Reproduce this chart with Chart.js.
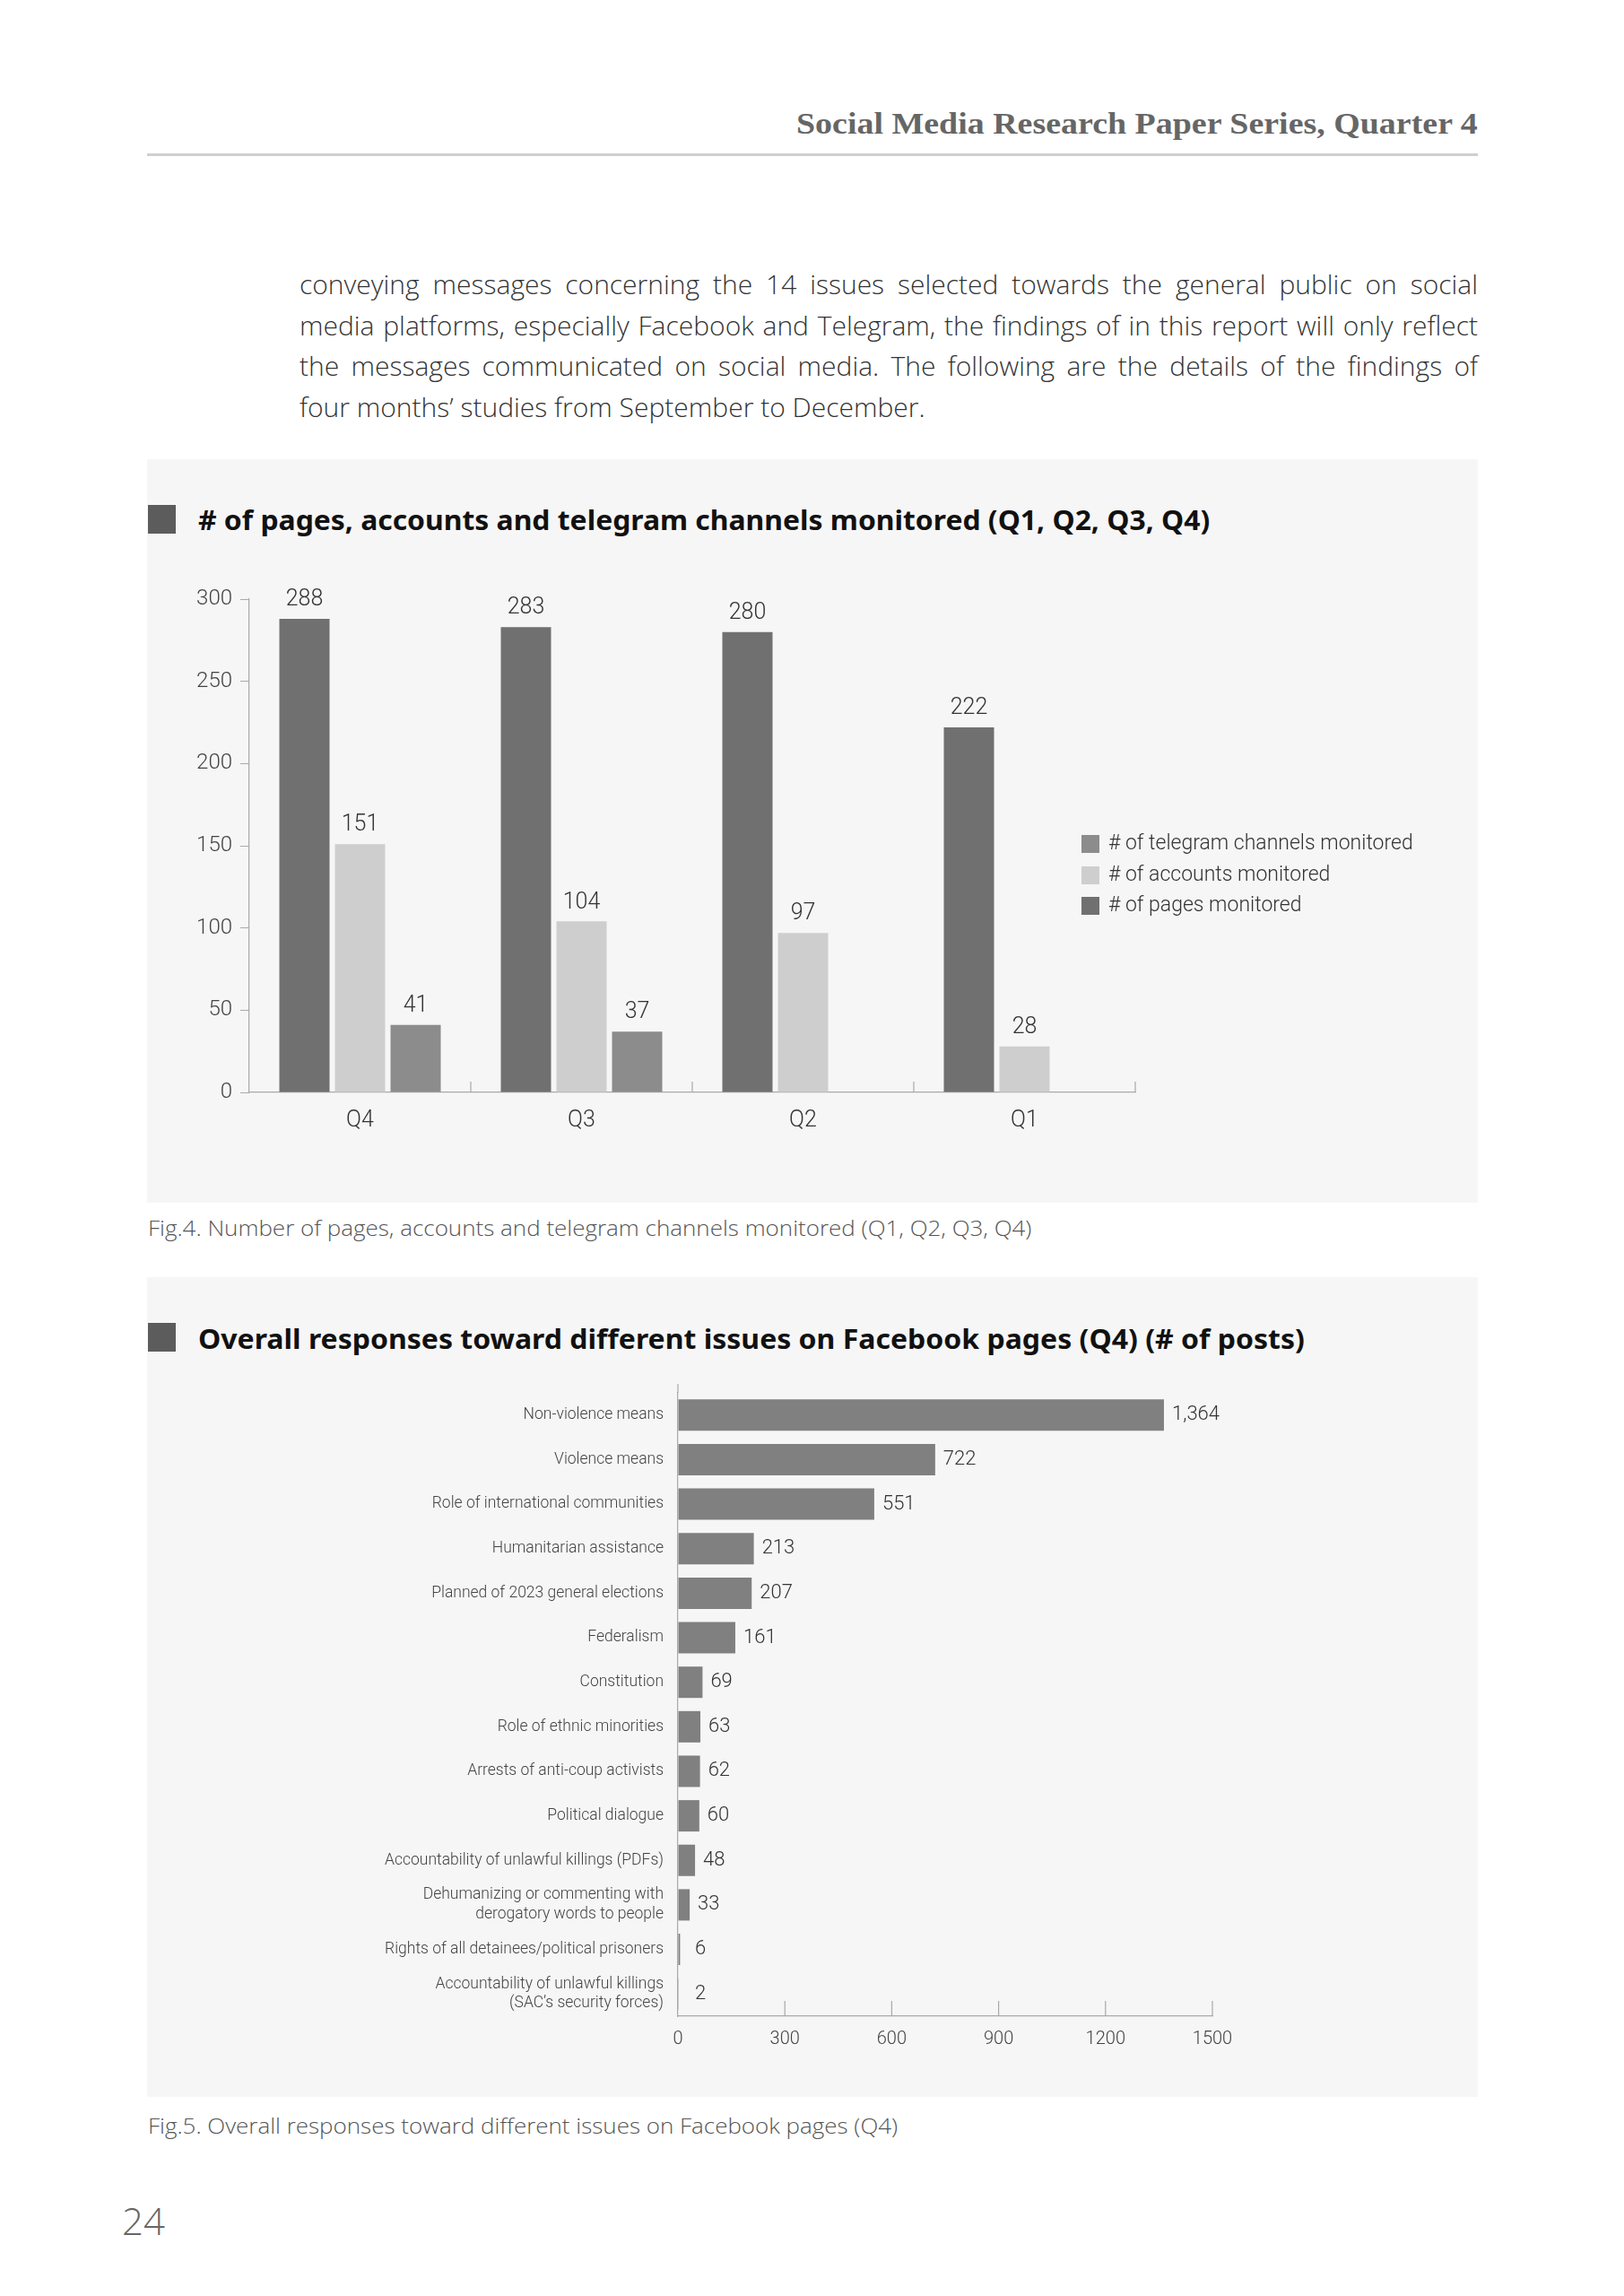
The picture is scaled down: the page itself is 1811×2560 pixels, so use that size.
<!DOCTYPE html>
<html>
<head>
<meta charset="utf-8">
<script src="https://cdn.jsdelivr.net/npm/chart.js@4.4.1/dist/chart.umd.min.js"></script>
<style>
    html, body { margin: 0; padding: 0; background: #fff; }
    body { width: 1811px; height: 2560px; position: relative; overflow: hidden; font-family: "Open Sans", sans-serif; }
    .abs { position: absolute; white-space: nowrap; line-height: 1; }
    .header { left: 888px; top: 122px; font-family: "Liberation Serif", serif; font-weight: bold; font-size: 33px; color: #666; }
    .rule { position: absolute; left: 164px; top: 171px; width: 1484px; height: 3px; background: #cfcfcf; }
    .para { position: absolute; left: 334px; top: 294px; width: 1314px; font-size: 30px; line-height: 45.7px; font-weight: 300; color: #333; }
    .para div { white-space: nowrap; text-align: justify; text-align-last: justify; }
    .para div.last { text-align: left; text-align-last: left; }
    .panel { position: absolute; left: 164px; width: 1484px; background: #f6f6f6; }
    .marker { position: absolute; left: 165px; width: 31px; height: 32px; background: #5c5c5c; }
    .title { left: 221px; font-family: "Noto Sans", sans-serif; font-weight: bold; font-size: 30px; color: #111; }
    .caption { left: 165px; font-size: 24px; font-weight: 300; color: #555; }
    .legend-row { position: absolute; left: 1206px; height: 20px; font-family: Roboto, sans-serif; font-weight: 300; font-size: 23px; color: #333; white-space: nowrap; }
    .legend-row span.box { position: absolute; left: 0; top: 0; width: 20px; height: 20px; }
    .legend-row span.txt { position: absolute; left: 30px; top: -3px; line-height: 1; }
    .pageno { left: 136px; top: 2455px; font-size: 42px; font-weight: 300; color: #666; }
</style>
</head>
<body>
<div class="abs header" id="header">Social Media Research Paper Series, Quarter 4</div>
<div class="rule"></div>

<div class="para" id="para">
    <div>conveying messages concerning the 14 issues selected towards the general public on social</div>
    <div>media platforms, especially Facebook and Telegram, the findings of in this report will only reflect</div>
    <div>the messages communicated on social media. The following are the details of the findings of</div>
    <div class="last">four months’ studies from September to December.</div>
</div>

<div class="panel" style="top:512px;height:829px;"></div>
<div class="marker" style="top:563px;"></div>
<div class="abs title" id="title1" style="top:565px;"># of pages, accounts and telegram channels monitored (Q1, Q2, Q3, Q4)</div>
<div style="position:absolute;left:165px;top:511px;width:1491px;height:832px;">
    <canvas id="monitoredChart" width="1491" height="832"></canvas>
</div>
<div id="legend1"></div>
<div class="abs caption" id="cap1" style="top:1357px;">Fig.4. Number of pages, accounts and telegram channels monitored (Q1, Q2, Q3, Q4)</div>

<div class="panel" style="top:1424px;height:914px;"></div>
<div class="marker" style="top:1475px;"></div>
<div class="abs title" id="title2" style="top:1478px;">Overall responses toward different issues on Facebook pages (Q4) (# of posts)</div>
<div style="position:absolute;left:165px;top:1428px;width:1491px;height:917px;">
    <canvas id="issuesChart" width="1491" height="917"></canvas>
</div>
<div class="abs caption" id="cap2" style="top:2358px;">Fig.5. Overall responses toward different issues on Facebook pages (Q4)</div>

<div class="abs pageno">24</div>

<script>
// Fig.4 data
const quarters = ['Q4', 'Q3', 'Q2', 'Q1'];
const pagesMonitored = [288, 283, 280, 222];
const accountsMonitored = [151, 104, 97, 28];
const telegramMonitored = [41, 37, null, null];
const monitoredTicks = [0, 50, 100, 150, 200, 250, 300];

// Fig.5 data
const issueLabels = [
    'Non-violence means',
    'Violence means',
    'Role of international communities',
    'Humanitarian assistance',
    'Planned of 2023 general elections',
    'Federalism',
    'Constitution',
    'Role of ethnic minorities',
    'Arrests of anti-coup activists',
    'Political dialogue',
    'Accountability of unlawful killings (PDFs)',
    ['Dehumanizing or commenting with', 'derogatory words to people'],
    'Rights of all detainees/political prisoners',
    ['Accountability of unlawful killings', '(SAC\u2019s security forces)']
];
const issuePosts = [1364, 722, 551, 213, 207, 161, 69, 63, 62, 60, 48, 33, 6, 2];
const postTicks = [0, 300, 600, 900, 1200, 1500];

const axisGray = '#a9a9a9';
const tickFont = { family: 'Roboto', size: 24, weight: 300 };

// stretch or squeeze a text block to the width it has in the printed page
function fitWidth(el, target, origin) {
    const w = el.scrollWidth;
    el.style.transformOrigin = (origin || 'left') + ' top';
    el.style.transform = 'scaleX(' + (target / w) + ')';
}
fitWidth(document.getElementById('header'), 760);
fitWidth(document.getElementById('title1'), 1128);
fitWidth(document.getElementById('title2'), 1234);
fitWidth(document.getElementById('cap1'), 985);
fitWidth(document.getElementById('cap2'), 836);

// paragraph lines that are too long for the column get squeezed instead of justified
document.querySelectorAll('#para div').forEach(line => {
    const probe = document.createElement('span');
    probe.textContent = line.textContent;
    line.textContent = '';
    line.appendChild(probe);
    const natural = probe.getBoundingClientRect().width;
    if (natural > 1314) {
        line.style.textAlign = 'left';
        line.style.textAlignLast = 'left';
        fitWidth(line, 1314 * line.scrollWidth / natural);
        line.style.transform = 'scaleX(' + (1314 / natural) + ')';
    }
});

// small upward tick marks on the axis line at the bottom
const upTicks = {
    id: 'upTicks',
    afterDraw(chart, args, opts) {
        const scale = chart.scales[opts.axis];
        const ctx = chart.ctx;
        const bottom = chart.chartArea.bottom;
        ctx.save();
        ctx.strokeStyle = axisGray;
        ctx.lineWidth = 1.2;
        opts.positions(scale).forEach(x => {
            ctx.beginPath();
            ctx.moveTo(x, bottom);
            ctx.lineTo(x, bottom - opts.length);
            ctx.stroke();
        });
        if (opts.extendTop) {
            ctx.beginPath();
            ctx.moveTo(chart.chartArea.left, chart.chartArea.top);
            ctx.lineTo(chart.chartArea.left, chart.chartArea.top - opts.extendTop);
            ctx.stroke();
        }
        ctx.restore();
    }
};

const columnLabels = {
    id: 'columnLabels',
    afterDatasetsDraw(chart) {
        const ctx = chart.ctx;
        ctx.save();
        ctx.font = '300 25px Roboto';
        ctx.fillStyle = '#333';
        ctx.textAlign = 'center';
        ctx.textBaseline = 'middle';
        chart.data.datasets.forEach((ds, i) => {
            chart.getDatasetMeta(i).data.forEach((bar, j) => {
                const v = ds.data[j];
                if (v === null || v === undefined) return;
                ctx.fillText(String(v), bar.x, bar.y - 21);
            });
        });
        ctx.restore();
    }
};

const rowLabels = {
    id: 'rowLabels',
    afterDatasetsDraw(chart) {
        const ctx = chart.ctx;
        const left = chart.chartArea.left;
        ctx.save();
        ctx.font = '300 22px Roboto';
        ctx.fillStyle = '#333';
        ctx.textAlign = 'left';
        ctx.textBaseline = 'middle';
        chart.data.datasets.forEach((ds, i) => {
            chart.getDatasetMeta(i).data.forEach((bar, j) => {
                const x = Math.max(bar.x + 9, left + 19);
                ctx.fillText(ds.data[j].toLocaleString('en-US'), x, bar.y);
            });
        });
        ctx.restore();
    }
};

// Fig.4 grouped columns
const monitoredChart = new Chart(document.getElementById('monitoredChart'), {
    type: 'bar',
    data: {
        labels: quarters,
        datasets: [
            { label: '# of pages monitored', data: pagesMonitored, backgroundColor: '#707070' },
            { label: '# of accounts monitored', data: accountsMonitored, backgroundColor: '#cecece' },
            { label: '# of telegram channels monitored', data: telegramMonitored, backgroundColor: '#8c8c8c' }
        ]
    },
    options: {
        responsive: false,
        animation: false,
        devicePixelRatio: 1,
        categoryPercentage: 0.753,
        barPercentage: 0.903,
        layout: { padding: { left: 0, top: 157, right: 390, bottom: 0 } },
        plugins: {
            legend: { display: false },
            tooltip: { enabled: false },
            upTicks: {
                axis: 'x',
                length: 12,
                positions: s => quarters.map((q, i) => s.getPixelForValue(i + 0.5))
            }
        },
        scales: {
            x: {
                grid: { drawOnChartArea: false, drawTicks: false },
                border: { color: axisGray, width: 1.2 },
                ticks: { font: { family: 'Roboto', size: 25, weight: 300 }, color: '#333', padding: 17 },
                afterFit: s => { s.height = 125; }
            },
            y: {
                min: 0,
                max: 300,
                afterBuildTicks: s => { s.ticks = monitoredTicks.map(v => ({ value: v })); },
                grid: { drawOnChartArea: false, drawTicks: true, tickLength: 10, color: axisGray },
                border: { color: axisGray, width: 1.2 },
                ticks: { font: tickFont, color: '#444', padding: 9 },
                afterFit: s => { s.width = 113; }
            }
        }
    },
    plugins: [upTicks, columnLabels]
});

// legend for Fig.4, listed in reverse dataset order like the original
const legendBox = document.getElementById('legend1');
const legendTops = [931, 966, 1000];
monitoredChart.data.datasets.slice().reverse().forEach((ds, i) => {
    const row = document.createElement('div');
    row.className = 'legend-row';
    row.style.top = legendTops[i] + 'px';
    row.innerHTML = '<span class="box" style="background:' + ds.backgroundColor + '"></span><span class="txt">' + ds.label + '</span>';
    legendBox.appendChild(row);
});

// Fig.5 horizontal bars
const issuesChart = new Chart(document.getElementById('issuesChart'), {
    type: 'bar',
    data: {
        labels: issueLabels,
        datasets: [{ label: '# of posts', data: issuePosts, backgroundColor: '#808080' }]
    },
    options: {
        indexAxis: 'y',
        responsive: false,
        animation: false,
        devicePixelRatio: 1,
        categoryPercentage: 1,
        barPercentage: 0.705,
        layout: { padding: { left: 0, top: 125, right: 304, bottom: 0 } },
        plugins: {
            legend: { display: false },
            tooltip: { enabled: false },
            upTicks: {
                axis: 'x',
                length: 17,
                extendTop: 10,
                positions: s => postTicks.slice(1).map(v => s.getPixelForValue(v))
            }
        },
        scales: {
            x: {
                min: 0,
                max: 1500,
                afterBuildTicks: s => { s.ticks = postTicks.map(v => ({ value: v })); },
                grid: { drawOnChartArea: false, drawTicks: false },
                border: { color: axisGray, width: 1.2 },
                ticks: { font: { family: 'Roboto', size: 20, weight: 300 }, color: '#444', padding: 14, callback: v => String(v) },
                afterFit: s => { s.height = 97; }
            },
            y: {
                grid: { drawOnChartArea: false, drawTicks: false },
                border: { color: axisGray, width: 1.2 },
                ticks: { font: { family: 'Roboto', size: 17.5, weight: 300, lineHeight: 1.24 }, color: '#444', padding: 16 },
                afterFit: s => { s.width = 591; }
            }
        }
    },
    plugins: [upTicks, rowLabels]
});
</script>
</body>
</html>
